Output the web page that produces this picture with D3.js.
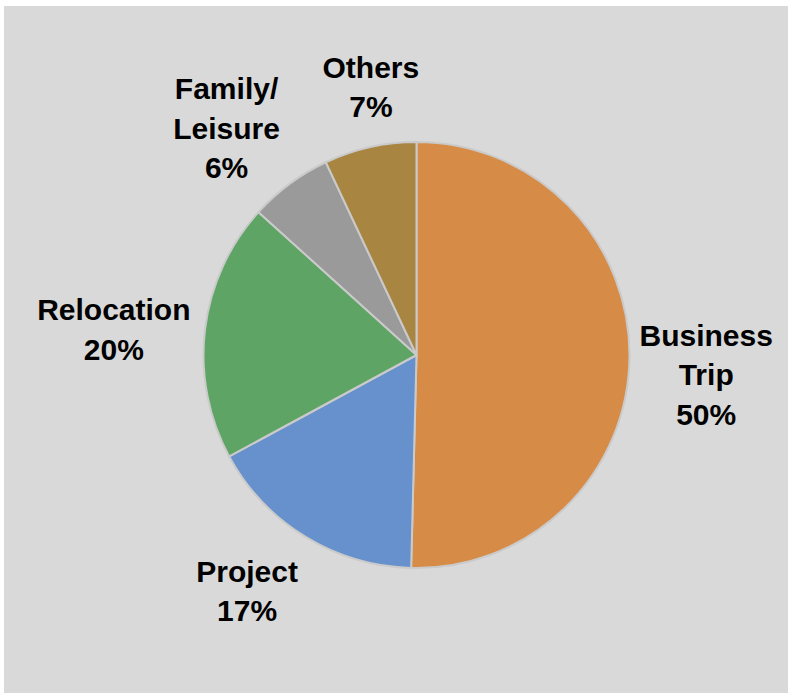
<!DOCTYPE html>
<html>
<head>
<meta charset="utf-8">
<script src="https://cdn.jsdelivr.net/npm/d3@7"></script>
<style>
  html, body { margin: 0; padding: 0; background: #ffffff; }
  svg { display: block; }
  text { font-family: "Liberation Sans", Arial, sans-serif; font-weight: bold; fill: #000; }
</style>
</head>
<body>
<svg id="chart" width="789" height="693"></svg>
<script>
// Reasons for travel, share of trips (percent), clockwise from 12 o'clock
const categories = ["Business Trip", "Project", "Relocation", "Family/ Leisure", "Others"];
const labelLines = [["Business", "Trip"], ["Project"], ["Relocation"], ["Family/", "Leisure"], ["Others"]];
const shares = [50.4, 16.7, 19.6, 6.3, 7.0];
const colors = ["#D68B47", "#6691CC", "#5EA465", "#9A9A9A", "#A98542"];
// manual fine-tuning of each label block after automatic placement [dx, dy]
const labelNudge = [[0, 16], [-22, -5], [-3, 10], [-10, 16], [13, -6]];

const W = 789, H = 693;
const cx = 416.5, cy = 355, R = 213;
const fontSize = 30, lineH = 39.5, gap = 10;

const svg = d3.select("#chart");

svg.append("rect")
  .attr("x", 4).attr("y", 6)
  .attr("width", W - 5).attr("height", H - 6)
  .attr("fill", "#D9D9D9");

const data = categories.map((c, i) => ({
  name: c, value: shares[i], lines: labelLines[i], color: colors[i], nudge: labelNudge[i]
}));

const pie = d3.pie().value(d => d.value).sort(null);
const arc = d3.arc().innerRadius(0).outerRadius(R);
const arcs = pie(data);

const g = svg.append("g").attr("transform", `translate(${cx},${cy})`);

g.selectAll("path.slice")
  .data(arcs)
  .join("path")
  .attr("class", "slice")
  .attr("d", arc)
  .attr("fill", d => d.data.color)
  .attr("stroke", "#CACACA")
  .attr("stroke-width", 2)
  .attr("stroke-linejoin", "round");

const pct = d3.format(".0%");

// Outside-end labels: push each label block outward along its mid-angle
// until the block's nearest point clears the rim by `gap`.
const labels = g.selectAll("g.label")
  .data(arcs)
  .join("g")
  .attr("class", "label");

labels.each(function(d) {
  const sel = d3.select(this);
  const lines = d.data.lines.concat([pct(d.data.value / 100)]);
  const t = sel.append("text")
    .attr("text-anchor", "middle")
    .style("font-size", fontSize + "px");
  lines.forEach((ln, i) => {
    t.append("tspan")
      .attr("x", 0)
      .attr("y", (i - (lines.length - 1) / 2) * lineH + fontSize * 0.36)
      .text(ln);
  });
  const bb = t.node().getBBox();
  const hw = bb.width / 2, hh = (lines.length * lineH) / 2;
  const mid = (d.startAngle + d.endAngle) / 2;
  const ux = Math.sin(mid), uy = -Math.cos(mid);
  const target = R + gap;
  // nearest distance from the pie centre to a box centred at distance D
  const nearest = D => {
    const bx = ux * D, by = uy * D;
    const px = Math.max(Math.abs(bx) - hw, 0);
    const py = Math.max(Math.abs(by) - hh, 0);
    return Math.hypot(px, py);
  };
  let lo = 0, hi = 600;
  for (let k = 0; k < 60; k++) {
    const m = (lo + hi) / 2;
    if (nearest(m) < target) lo = m; else hi = m;
  }
  const [nx, ny] = d.data.nudge;
  sel.attr("transform", `translate(${ux * hi + nx},${uy * hi + ny})`);
});
</script>
</body>
</html>
